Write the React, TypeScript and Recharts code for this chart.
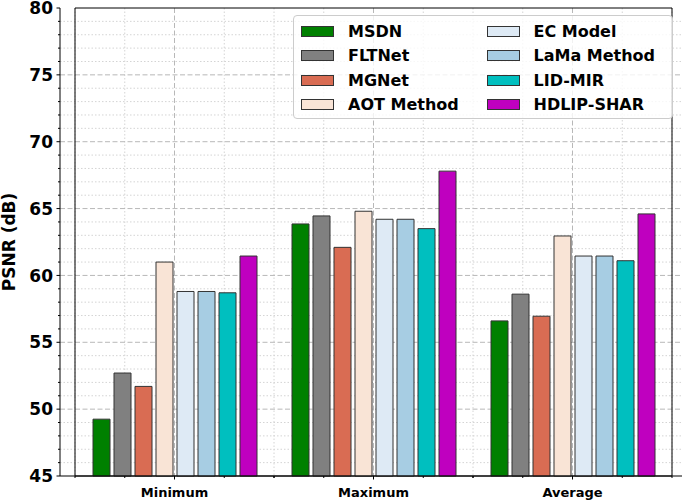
import React from "react";
import {
  Bar,
  BarChart,
  CartesianGrid,
  Label,
  Legend,
  ReferenceArea,
  XAxis,
  YAxis,
} from "recharts";

const categories = ["Minimum", "Maximum", "Average"];
const seriesNames = [
  "MSDN",
  "FLTNet",
  "MGNet",
  "AOT Method",
  "EC Model",
  "LaMa Method",
  "LID-MIR",
  "HDLIP-SHAR",
];
const seriesColors = [
  "#008000",
  "#808080",
  "#d96c53",
  "#f9e4d6",
  "#deeaf5",
  "#a7cde3",
  "#00bfbf",
  "#bf00bf",
];

const msdn = [49.25, 63.85, 56.6];
const fltnet = [52.7, 64.45, 58.6];
const mgnet = [51.7, 62.1, 56.95];
const aot = [61.0, 64.8, 62.95];
const ecModel = [58.8, 64.2, 61.45];
const lama = [58.8, 64.2, 61.45];
const lidMir = [58.7, 63.5, 61.1];
const hdlip = [61.45, 67.8, 64.6];
const seriesValues = [msdn, fltnet, mgnet, aot, ecModel, lama, lidMir, hdlip];

const yTicks = [
  45, 46, 47, 48, 49, 50, 51, 52, 53, 54, 55, 56, 57, 58, 59, 60, 61, 62, 63,
  64, 65, 66, 67, 68, 69, 70, 71, 72, 73, 74, 75, 76, 77, 78, 79, 80,
];
const yMajorGrid = [50, 55, 60, 65, 70, 75];
const yMinorGrid = yTicks.filter((v) => v % 5 !== 0);
// x grid / minor tick positions, in units of one category step
const xMajorGrid = [0, 1, 2];
const xMinorGrid = [-0.5, -0.25, 0.25, 0.5, 0.75, 1.25, 1.5, 1.75, 2.25, 2.5];
const xMinorOffsets = [-0.5, -0.25, 0.25, 0.5];

const data = categories.map((name, i) => {
  const row: Record<string, string | number> = { name };
  seriesNames.forEach((s, k) => {
    row[s] = seriesValues[k][i];
  });
  return row;
});

const FONT = "'DejaVu Sans', sans-serif";
const EDGE = "#333333";

// band centres from the category axis range (recharts uses a band scale with no inner padding)
function gridX(xAxis: any, positions: number[]) {
  const s = xAxis && xAxis.scale;
  if (!s || typeof s.range !== "function") return [];
  const r = s.range();
  const step = (r[1] - r[0]) / categories.length;
  const c0 = r[0] + step / 2;
  return positions.map((p) => c0 + p * step);
}

function YTick({ x, y, payload }: any) {
  const major = payload.value % 5 === 0;
  return (
    <g>
      <line x1={x - (major ? 3.5 : 2)} x2={x} y1={y} y2={y} stroke="#000" />
      {major && (
        <text
          x={x - 7}
          y={y}
          dy="0.36em"
          textAnchor="end"
          fontFamily={FONT}
          fontWeight="bold"
          fontSize={17}
          fill="#000"
        >
          {payload.value}
        </text>
      )}
    </g>
  );
}

function XTick({ x, y, payload }: any) {
  const step = 2 * (payload.offset || 0);
  return (
    <g>
      <line x1={x} x2={x} y1={y} y2={y + 3.5} stroke="#000" />
      {xMinorOffsets.map((p) => (
        <line
          key={p}
          x1={x + p * step}
          x2={x + p * step}
          y1={y}
          y2={y + 2}
          stroke="#000"
        />
      ))}
      <text
        x={x}
        y={y + 20.5}
        textAnchor="middle"
        fontFamily={FONT}
        fontWeight="bold"
        fontSize={13}
        fill="#000"
      >
        {payload.value}
      </text>
    </g>
  );
}

function LegendBox() {
  // matplotlib fills the legend column by column
  const cols = [seriesNames.slice(0, 4), seriesNames.slice(4)];
  return (
    <div
      style={{
        width: 380,
        height: 104,
        boxSizing: "border-box",
        border: "1px solid #cccccc",
        borderRadius: 4,
        background: "rgba(255,255,255,0.8)",
        display: "flex",
        paddingTop: 3,
        paddingLeft: 7,
        fontFamily: FONT,
        fontWeight: "bold",
        fontSize: 16,
        color: "#000",
      }}
    >
      {cols.map((col, c) => (
        <div key={c} style={{ width: 195 }}>
          {col.map((name) => (
            <div
              key={name}
              style={{ height: 24.5, display: "flex", alignItems: "center" }}
            >
              <span
                style={{
                  width: 33,
                  height: 11,
                  boxSizing: "border-box",
                  border: `1px solid ${EDGE}`,
                  background: seriesColors[seriesNames.indexOf(name)],
                  marginRight: 14,
                  flex: "none",
                }}
              />
              <span>{name}</span>
            </div>
          ))}
        </div>
      ))}
    </div>
  );
}

export default function App() {
  return (
    <div style={{ position: "absolute", left: 0, top: 0, width: 685, height: 501 }}>
      <BarChart
        width={685}
        height={501}
        data={data}
        margin={{ top: 8, right: 3, bottom: 0, left: 0 }}
        barSize={17}
        barGap={4}
      >
        <CartesianGrid
          horizontalValues={yMinorGrid}
          verticalCoordinatesGenerator={({ xAxis }: any) => gridX(xAxis, xMinorGrid)}
          stroke="#d4d4d4"
          strokeDasharray="1.5 2"
        />
        <CartesianGrid
          horizontalValues={yMajorGrid}
          verticalCoordinatesGenerator={({ xAxis }: any) => gridX(xAxis, xMajorGrid)}
          stroke="#b8b8b8"
          strokeDasharray="5 2.5"
        />
        <XAxis
          dataKey="name"
          padding={{ left: 15, right: 10 }}
          interval={0}
          tick={<XTick />}
          tickLine={false}
          tickSize={0}
          tickMargin={0}
          height={25}
          axisLine={{ stroke: "#000" }}
        />
        <YAxis
          domain={[45, 80]}
          ticks={yTicks}
          interval={0}
          tick={<YTick />}
          tickLine={false}
          tickSize={0}
          tickMargin={0}
          width={60}
          axisLine={{ stroke: "#000" }}
        >
          <Label
            content={({ viewBox }: any) => {
              const cx = 15;
              const cy = viewBox.y + viewBox.height / 2;
              return (
                <text
                  x={cx}
                  y={cy}
                  transform={`rotate(-90, ${cx}, ${cy})`}
                  textAnchor="middle"
                  fontFamily={FONT}
                  fontWeight="bold"
                  fontSize={17}
                  fill="#000"
                >
                  PSNR (dB)
                </text>
              );
            }}
          />
        </YAxis>
        <Legend
          layout="vertical"
          align="center"
          verticalAlign="middle"
          content={() => <LegendBox />}
          wrapperStyle={{ left: 293, top: 15, width: 380, height: 104 }}
        />
        {seriesNames.map((s, k) => (
          <Bar
            key={s}
            dataKey={s}
            fill={seriesColors[k]}
            stroke={EDGE}
            strokeWidth={1}
            isAnimationActive={false}
          />
        ))}
        <ReferenceArea y1={45} y2={80} fill="none" stroke="#000" strokeWidth={1} />
      </BarChart>
    </div>
  );
}
